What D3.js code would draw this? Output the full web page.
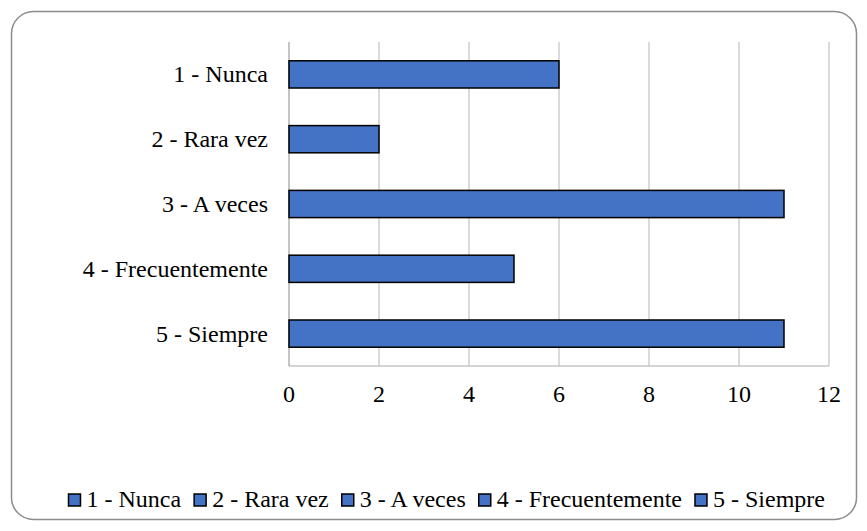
<!DOCTYPE html>
<html>
<head>
<meta charset="utf-8">
<script src="https://cdn.jsdelivr.net/npm/d3@7"></script>
<style>
  html, body { margin: 0; padding: 0; background: #fff; }
  svg { display: block; }
</style>
</head>
<body>
<svg id="chart" width="867" height="531"></svg>
<script>
// Survey responses per frequency category
const categories = ["1 - Nunca", "2 - Rara vez", "3 - A veces", "4 - Frecuentemente", "5 - Siempre"];
const values = [6, 2, 11, 5, 11];
const xTicks = [0, 2, 4, 6, 8, 10, 12];

const plot = { left: 289, right: 829, top: 42, bottom: 366 };
const barColor = "#4472C4";
const fontFamily = "'Liberation Serif', 'Times New Roman', serif";
const fontSize = 24;

const svg = d3.select("#chart");

// Outer frame with rounded corners
svg.append("rect")
  .attr("x", 11.5).attr("y", 11.5)
  .attr("width", 845).attr("height", 508)
  .attr("rx", 22).attr("ry", 22)
  .attr("fill", "#fff")
  .attr("stroke", "#8c8c8c")
  .attr("stroke-width", 1.5);

const x = d3.scaleLinear().domain([0, 12]).range([plot.left, plot.right]);
const y = d3.scaleBand().domain(categories).range([plot.top, plot.bottom]).paddingInner(0.58).paddingOuter(0.29);

// Vertical gridlines
svg.append("g")
  .selectAll("line")
  .data(xTicks.filter(t => t > 0))
  .join("line")
  .attr("x1", d => x(d)).attr("x2", d => x(d))
  .attr("y1", plot.top).attr("y2", plot.bottom)
  .attr("stroke", "#c6c6c6")
  .attr("stroke-width", 1.3);

// Bottom axis baseline
svg.append("line")
  .attr("x1", plot.left).attr("x2", plot.right)
  .attr("y1", plot.bottom).attr("y2", plot.bottom)
  .attr("stroke", "#c6c6c6").attr("stroke-width", 1.3);

// Category axis line
svg.append("line")
  .attr("x1", plot.left).attr("x2", plot.left)
  .attr("y1", plot.top).attr("y2", plot.bottom)
  .attr("stroke", "#a6a6a6").attr("stroke-width", 1.3);

// Bars
svg.append("g")
  .selectAll("rect")
  .data(categories.map((c, i) => ({ c, v: values[i] })))
  .join("rect")
  .attr("x", x(0))
  .attr("y", d => y(d.c))
  .attr("width", d => x(d.v) - x(0))
  .attr("height", y.bandwidth())
  .attr("fill", barColor)
  .attr("stroke", "#000")
  .attr("stroke-width", 1.5);

// Category labels
svg.append("g")
  .selectAll("text")
  .data(categories)
  .join("text")
  .style("font-family", fontFamily)
  .attr("x", plot.left - 21)
  .attr("y", d => y(d) + y.bandwidth() / 2)
  .attr("dy", "0.33em")
  .attr("text-anchor", "end")
  .attr("font-size", fontSize)
  .text(d => d);

// Value tick labels
svg.append("g")
  .selectAll("text")
  .data(xTicks)
  .join("text")
  .style("font-family", fontFamily)
  .attr("x", d => x(d))
  .attr("y", 402)
  .attr("text-anchor", "middle")
  .attr("font-size", fontSize)
  .text(d => d);

// Legend
const legend = svg.append("g");
let lx = 68.5;
const ly = 500;
categories.forEach(c => {
  legend.append("rect")
    .attr("x", lx).attr("y", ly - 6)
    .attr("width", 12).attr("height", 12)
    .attr("fill", barColor)
    .attr("stroke", "#000")
    .attr("stroke-width", 1.5);
  const t = legend.append("text")
    .style("font-family", fontFamily)
    .attr("x", lx + 18)
    .attr("y", ly)
    .attr("dy", "0.3em")
    .attr("font-size", fontSize)
    .text(c);
  lx += 18 + t.node().getComputedTextLength() + 13;
});
</script>
</body>
</html>
